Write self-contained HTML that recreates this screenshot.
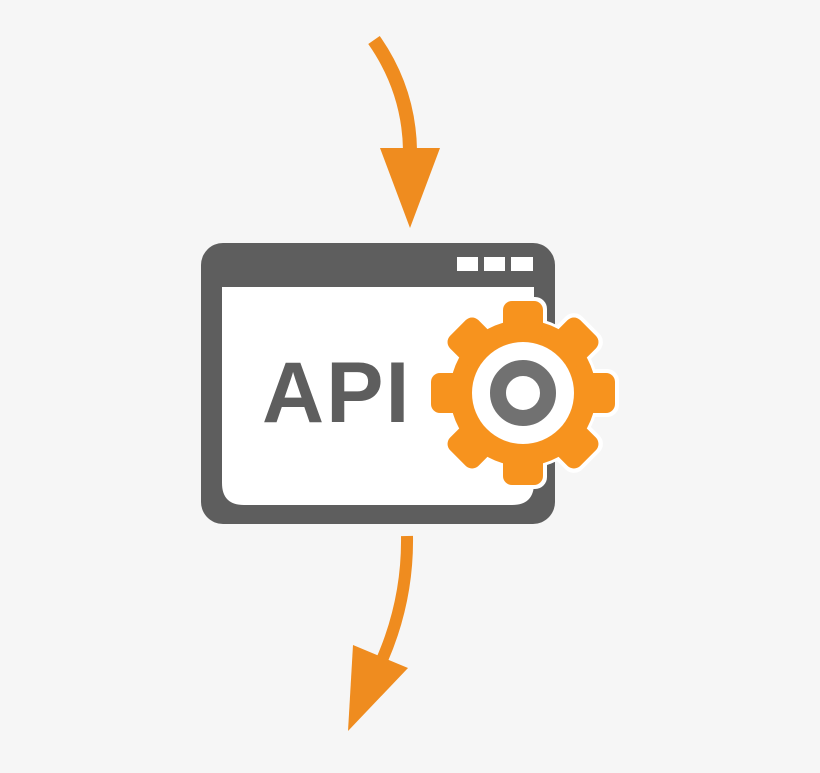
<!DOCTYPE html>
<html><head><style>html,body{margin:0;padding:0;background:#f6f6f6;}svg{display:block}</style></head>
<body>
<svg width="820" height="773" viewBox="0 0 820 773" xmlns="http://www.w3.org/2000/svg">
<rect width="820" height="773" fill="#f6f6f6"/>
<!-- top arrow -->
<path d="M374,40 Q409,90 410,150" fill="none" stroke="#ef8c1f" stroke-width="14"/>
<polygon points="380,148 440,148 410,228" fill="#ef8c1f"/>
<!-- bottom arrow -->
<path d="M407,536 Q408,600 382,660" fill="none" stroke="#ef8c1f" stroke-width="12"/>
<polygon points="353,645 408,668 348,731" fill="#ef8c1f"/>
<!-- window -->
<rect x="201" y="243" width="354" height="281" rx="22" fill="#5e5e5e"/>
<path d="M222,287 H534 V483 Q534,505 512,505 H244 Q222,505 222,483 Z" fill="#ffffff"/>
<rect x="457" y="257" width="21" height="14" fill="#fff"/>
<rect x="484" y="257" width="21" height="14" fill="#fff"/>
<rect x="511" y="257" width="22" height="14" fill="#fff"/>
<text x="262" y="422" font-family="Liberation Sans, sans-serif" font-weight="bold" font-size="86" fill="#5e5e5e" letter-spacing="2">API</text>
<!-- gear -->
<g transform="translate(523,393)">
  <g fill="#fff" stroke="#fff" stroke-width="8" stroke-linejoin="round">
    <circle r="72"/>
    <g id="t1"><rect x="-20" y="-92" width="40" height="40" rx="8"/></g>
    <use href="#t1" transform="rotate(45)"/><use href="#t1" transform="rotate(90)"/><use href="#t1" transform="rotate(135)"/>
    <use href="#t1" transform="rotate(180)"/><use href="#t1" transform="rotate(225)"/><use href="#t1" transform="rotate(270)"/><use href="#t1" transform="rotate(315)"/>
  </g>
  <g fill="#f7931e">
    <circle r="73"/>
    <g id="t2"><rect x="-20" y="-92" width="40" height="40" rx="9"/></g>
    <use href="#t2" transform="rotate(45)"/><use href="#t2" transform="rotate(90)"/><use href="#t2" transform="rotate(135)"/>
    <use href="#t2" transform="rotate(180)"/><use href="#t2" transform="rotate(225)"/><use href="#t2" transform="rotate(270)"/><use href="#t2" transform="rotate(315)"/>
  </g>
  <circle r="51" fill="#fff"/>
  <circle r="25" fill="none" stroke="#717171" stroke-width="16"/>
</g>
</svg>
</body></html>
